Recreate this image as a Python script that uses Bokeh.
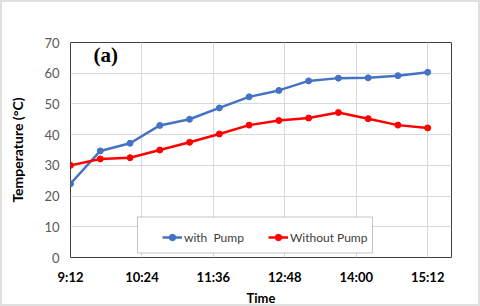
from bokeh.plotting import figure
from bokeh.models import (FixedTicker, Legend, LegendItem, Label, BoxAnnotation)
from bokeh.embed import file_html
from bokeh.resources import INLINE

# ---- data ----
times = ["9:12", "9:42", "10:12", "10:42", "11:12", "11:42", "12:12",
         "12:42", "13:12", "13:42", "14:12", "14:42", "15:12"]
with_pump = [24.0, 34.7, 37.2, 43.0, 45.0, 48.7, 52.3, 54.4, 57.5, 58.4, 58.5, 59.2, 60.3]
without_pump = [30.0, 32.1, 32.5, 35.0, 37.5, 40.2, 43.1, 44.6, 45.4, 47.2, 45.2, 43.1, 42.2]
tick_labels = ["9:12", "10:24", "11:36", "12:48", "14:00", "15:12"]
x_start, x_end = "9:12", "15:36"
y_ticks = [0, 10, 20, 30, 40, 50, 60, 70]


def to_min(t):
    h, m = t.split(":")
    return int(h) * 60 + int(m)


x = [to_min(t) for t in times]
ticks = [to_min(t) for t in tick_labels]

FONT = "Lato"

p = figure(width=480, height=306, x_range=(to_min(x_start), to_min(x_end)),
           y_range=(0, 70), output_backend="svg", toolbar_location=None,
           min_border_left=68, min_border_right=31, min_border_top=40,
           min_border_bottom=45)
p.background_fill_color = "white"
p.border_fill_color = "white"
p.outline_line_color = "#404040"
p.outline_line_width = 1
# light grey frame around the whole chart
p.styles = {"border": "2px solid #e0e0e0"}

# grids
p.xgrid.ticker = FixedTicker(ticks=ticks)
p.ygrid.ticker = FixedTicker(ticks=y_ticks)
for g in (p.xgrid, p.ygrid):
    g.grid_line_color = "#d9d9d9"
    g.grid_line_width = 1

# axes
p.xaxis.ticker = FixedTicker(ticks=ticks)
p.xaxis.major_label_overrides = {t: l for t, l in zip(ticks, tick_labels)}
p.yaxis.ticker = FixedTicker(ticks=y_ticks)
for ax in (p.xaxis, p.yaxis):
    ax.axis_line_color = None
    ax.major_tick_line_color = None
    ax.minor_tick_line_color = None
    ax.major_tick_in = 0
    ax.major_tick_out = 0
    ax.minor_tick_out = 0
    ax.minor_tick_in = 0
    ax.major_label_text_font = FONT
    ax.axis_label_text_font = FONT
    ax.axis_label_text_font_style = "bold"
    ax.axis_label_text_color = "black"

p.xaxis.major_label_text_font_size = "13px"
p.xaxis.major_label_text_font_style = "bold"
p.xaxis.major_label_text_color = "black"
p.xaxis.major_label_standoff = 11
p.xaxis.axis_label = "Time"
p.xaxis.axis_label_text_font_size = "13px"
p.xaxis.axis_label_standoff = 2

p.yaxis.major_label_text_font_size = "13px"
p.yaxis.major_label_text_color = "#595959"
p.yaxis.major_label_standoff = 11
p.yaxis.axis_label = "Temperature (\u00b0C)"
p.yaxis.axis_label_text_font_size = "14px"
p.yaxis.axis_label_standoff = 15

# series
lb = p.line(x, with_pump, line_color="#4472C4", line_width=2.5)
sb = p.scatter(x, with_pump, size=6, color="#4472C4")
lr = p.line(x, without_pump, line_color="#FF0000", line_width=2.5)
sr = p.scatter(x, without_pump, size=6, color="#FF0000")

# legend box
box = BoxAnnotation(left=67, right=302, bottom=4.5, top=40.5,
                    left_units="screen", right_units="screen",
                    bottom_units="screen", top_units="screen",
                    fill_color="white", fill_alpha=1.0,
                    line_color="#404040", line_width=1)
p.add_layout(box)

legend = Legend(items=[LegendItem(label="with  Pump", renderers=[lb, sb]),
                       LegendItem(label="Without Pump", renderers=[lr, sr])],
                orientation="horizontal", location=(86, 6),
                padding=6, spacing=24, glyph_width=20, glyph_height=16,
                label_standoff=2, label_text_font=FONT,
                label_text_font_size="12px", label_text_color="#404040",
                border_line_alpha=0, background_fill_alpha=0)
p.add_layout(legend, "center")

# panel tag
lab = Label(x=23, y=203, x_units="screen", y_units="screen", text="(a)",
            text_font="Liberation Serif, serif", text_font_style="bold",
            text_font_size="21px", text_color="black", text_baseline="middle")
p.add_layout(lab)

open("out.html", "w").write(file_html(p, INLINE))
